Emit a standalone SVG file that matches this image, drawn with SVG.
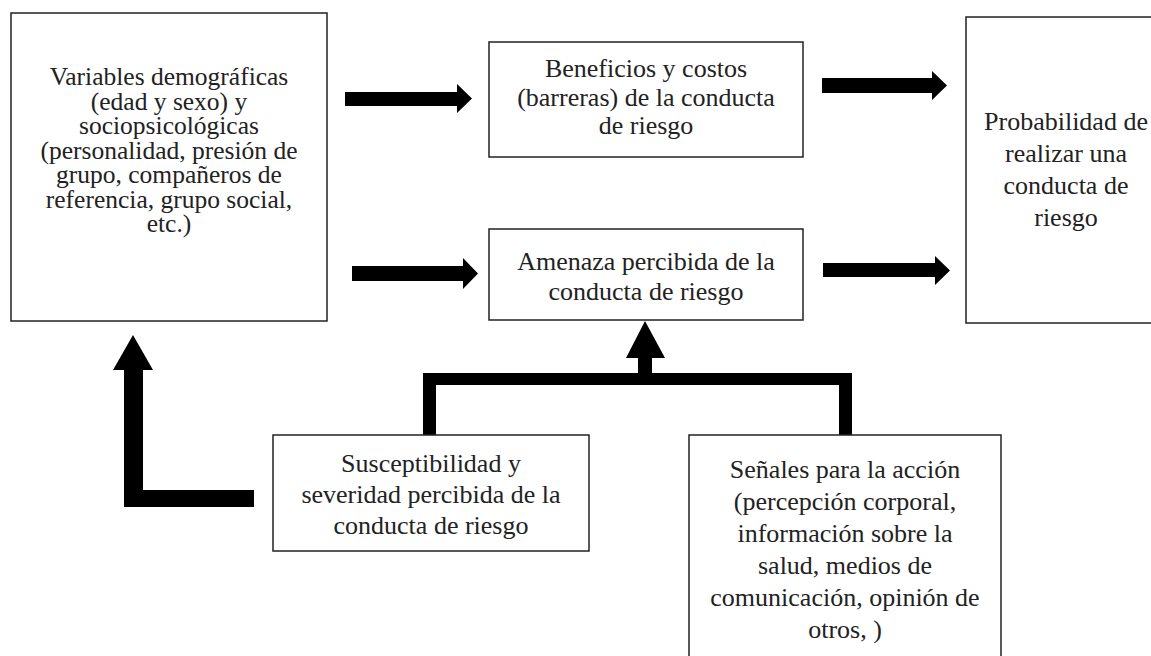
<svg xmlns="http://www.w3.org/2000/svg" width="1151" height="656" viewBox="0 0 1151 656">
<style>
.box{fill:#fff;stroke:#222;stroke-width:1.5}
.t{font-family:"Liberation Serif","Times New Roman",serif;font-size:26px;fill:#222;text-anchor:middle}
.v{font-size:25.5px}
.c{fill:#000;stroke:none}
</style>
<rect width="1151" height="656" fill="#fff"/>
<g id="connectors">
<polygon class="c" points="345,92 457,92 457,84 472,98.5 457,113 457,106 345,106"/>
<polygon class="c" points="822,78 932,78 932,71 947,85.5 932,100 932,93 822,93"/>
<polygon class="c" points="352,266 463,266 463,258 478,273.5 463,289 463,281 352,281"/>
<polygon class="c" points="823,263 935,263 935,256 950,270.5 935,285 935,277 823,277"/>
<polygon class="c" points="124,507 124,370 113,370 133,335 153,370 143,370 143,490 254,490 254,507"/>
<polygon class="c" points="423,435 423,373 638,373 638,358 626,358 645,321 665,358 652,358 652,373 852,373 852,435 839,435 839,385 436,385 436,435"/>
</g>
<g id="variables">
<rect class="box" x="11" y="13" width="316" height="308"/>
<text class="t v" x="169" y="85">Variables demográficas</text>
<text class="t v" x="169" y="109.5">(edad y sexo) y</text>
<text class="t v" x="169" y="134">sociopsicológicas</text>
<text class="t v" x="169" y="158.5">(personalidad, presión de</text>
<text class="t v" x="169" y="183">grupo, compañeros de</text>
<text class="t v" x="169" y="207.5">referencia, grupo social,</text>
<text class="t v" x="169" y="232">etc.)</text>
</g>
<g id="beneficios">
<rect class="box" x="489" y="42" width="314" height="115"/>
<text class="t" x="646" y="77">Beneficios y costos</text>
<text class="t" x="646" y="106">(barreras) de la conducta</text>
<text class="t" x="646" y="134">de riesgo</text>
</g>
<g id="probabilidad">
<rect class="box" x="966" y="17" width="200" height="306"/>
<text class="t" x="1066" y="130">Probabilidad de</text>
<text class="t" x="1066" y="162">realizar una</text>
<text class="t" x="1066" y="194">conducta de</text>
<text class="t" x="1066" y="226">riesgo</text>
</g>
<g id="amenaza">
<rect class="box" x="489" y="229" width="314" height="91"/>
<text class="t" x="646" y="270">Amenaza percibida de la</text>
<text class="t" x="646" y="300">conducta de riesgo</text>
</g>
<g id="susceptibilidad">
<rect class="box" x="273" y="435" width="316" height="116"/>
<text class="t" x="431" y="472">Susceptibilidad y</text>
<text class="t" x="431" y="503">severidad percibida de la</text>
<text class="t" x="431" y="534">conducta de riesgo</text>
</g>
<g id="senales">
<rect class="box" x="689" y="435" width="312" height="240"/>
<text class="t" x="845" y="478">Señales para la acción</text>
<text class="t" x="845" y="510">(percepción corporal,</text>
<text class="t" x="845" y="542">información sobre la</text>
<text class="t" x="845" y="574">salud, medios de</text>
<text class="t" x="845" y="606">comunicación, opinión de</text>
<text class="t" x="845" y="638">otros, )</text>
</g>
</svg>
